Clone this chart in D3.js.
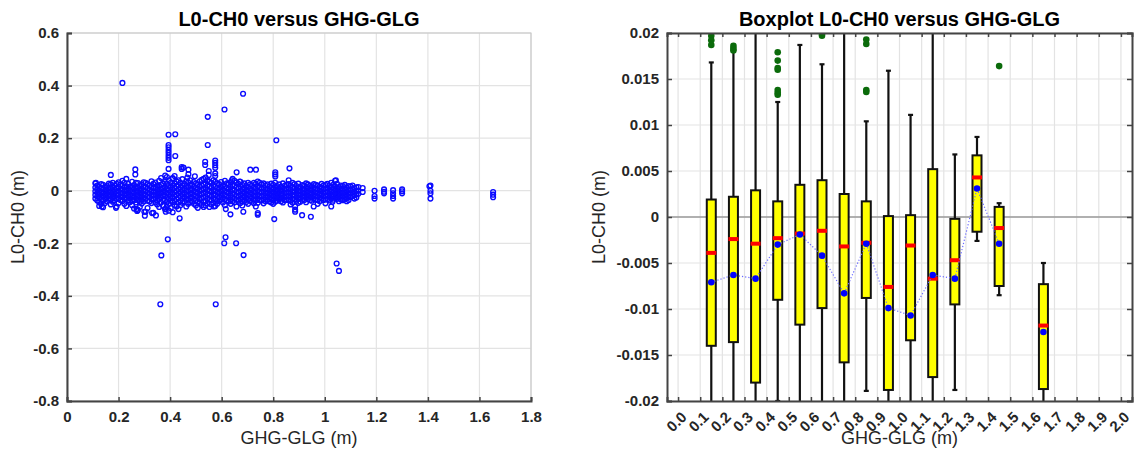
<!DOCTYPE html>
<html><head><meta charset="utf-8">
<script src="https://cdn.jsdelivr.net/npm/d3@7"></script>
<style>body{margin:0;background:#fff}svg{display:block}text{font-family:"Liberation Sans",Arial,sans-serif}</style>
</head><body>
<script>
// ---------- Left scatter data ----------
const bandX = [0.11,0.125,0.14,0.155,0.17,0.185,0.2,0.215,0.23,0.245,0.26,0.275,0.29,0.305,0.32,0.335,0.35,0.365,0.38,0.395,0.41,0.425,0.44,0.455,0.47,0.485,0.5,0.515,0.53,0.545,0.56,0.575,0.59,0.605,0.62,0.635,0.65,0.665,0.68,0.695,0.71,0.725,0.74,0.755,0.77,0.785,0.8,0.815,0.83,0.845,0.86,0.875,0.89,0.905,0.92,0.935,0.95,0.965,0.98,0.995,1.01,1.025,1.04,1.055,1.07,1.085,1.1,1.115,1.13];
const bandY = [
[0.028,0.012,-0.002,-0.016,-0.03],[0.015,0.0,-0.014,-0.027,-0.044,-0.058],[0.022,0.006,-0.008,-0.021,-0.038,-0.063],[0.018,0.003,-0.011,-0.025,-0.04],
[0.024,0.008,-0.006,-0.019,-0.033,-0.052],[0.02,0.005,-0.009,-0.023,-0.036],[0.032,0.014,0.0,-0.014,-0.028,-0.047],[0.038,0.019,0.004,-0.01,-0.024,-0.039],
[0.045,0.017,0.002,-0.012,-0.027,-0.058],[0.016,0.001,-0.015,-0.029,-0.043],[0.021,0.006,-0.008,-0.022,-0.036,-0.068],[0.029,0.011,-0.004,-0.019,-0.035,-0.073],
[0.024,0.008,-0.006,-0.02,-0.034,-0.049],[0.03,0.013,-0.002,-0.016,-0.031,-0.08],[0.019,0.004,-0.01,-0.024,-0.041],[0.026,0.01,-0.004,-0.018,-0.032,-0.084],
[0.02,0.005,-0.009,-0.022,-0.038,-0.052],[0.048,0.022,0.006,-0.008,-0.024,-0.045],[0.033,0.012,-0.004,-0.02,-0.036,-0.07],[0.04,0.018,0.002,-0.014,-0.03,-0.05,-0.076],
[0.046,0.02,0.004,-0.012,-0.028,-0.044,-0.082],[0.035,0.016,0.0,-0.016,-0.032,-0.06],[0.03,0.012,-0.004,-0.02,-0.038,-0.055],[0.026,0.009,-0.007,-0.023,-0.04],
[0.032,0.014,-0.002,-0.018,-0.034,-0.05],[0.022,0.006,-0.01,-0.026,-0.042],[0.028,0.011,-0.005,-0.021,-0.037,-0.056],[0.036,0.016,0.0,-0.016,-0.032,-0.046],
[0.045,0.024,0.006,-0.01,-0.026,-0.042,-0.062],[0.04,0.02,0.003,-0.013,-0.03,-0.048],[0.03,0.012,-0.004,-0.02,-0.036,-0.052],[0.034,0.015,-0.001,-0.017,-0.033,-0.058],
[0.025,0.008,-0.008,-0.024,-0.04],[0.02,0.004,-0.012,-0.028,-0.045],[0.028,0.011,-0.005,-0.021,-0.036],[0.033,0.014,-0.002,-0.018,-0.034,-0.05],
[0.038,0.018,0.002,-0.014,-0.03,-0.044],[0.026,0.009,-0.007,-0.022,-0.038],[0.022,0.006,-0.01,-0.025,-0.041,-0.056],[0.018,0.003,-0.012,-0.027,-0.043],
[0.024,0.008,-0.007,-0.022,-0.038],[0.03,0.012,-0.004,-0.019,-0.034,-0.048],[0.035,0.016,0.0,-0.016,-0.031,-0.046],[0.024,0.008,-0.007,-0.022,-0.037],
[0.02,0.005,-0.01,-0.025,-0.04],[0.016,0.002,-0.012,-0.026,-0.041],[0.022,0.006,-0.008,-0.022,-0.036,-0.05],[0.018,0.004,-0.01,-0.024,-0.038],
[0.015,0.001,-0.013,-0.027,-0.04],[0.02,0.005,-0.009,-0.023,-0.036],[0.025,0.009,-0.006,-0.02,-0.034],[0.03,0.012,-0.003,-0.017,-0.031,-0.045],
[0.018,0.003,-0.011,-0.025,-0.038],[0.014,0.0,-0.014,-0.028,-0.042],[0.02,0.005,-0.009,-0.022,-0.035],[0.024,0.009,-0.005,-0.019,-0.032],
[0.017,0.003,-0.011,-0.024,-0.038],[0.022,0.007,-0.007,-0.02,-0.034],[0.015,0.001,-0.012,-0.026,-0.04],[0.02,0.006,-0.008,-0.021,-0.035],
[0.026,0.01,-0.004,-0.018,-0.032],[0.03,0.013,-0.002,-0.016,-0.03],[0.038,0.016,0.001,-0.013,-0.027],[0.014,0.0,-0.013,-0.026,-0.04],
[0.018,0.004,-0.009,-0.022,-0.036],[0.012,-0.002,-0.015,-0.028],[0.016,0.002,-0.011,-0.024],[0.01,-0.004,-0.017,-0.03],[0.014,0.0,-0.012]
];
const bandX2 = [0.1175,0.1325,0.1475,0.1625,0.1775,0.1925,0.2075,0.2225,0.2375,0.2525,0.2675,0.2825,0.2975,0.3125,0.3275,0.3425,0.3575,0.3725,0.3875,0.4025,0.4175,0.4325,0.4475,0.4625,0.4775,0.4925,0.5075,0.5225,0.5375,0.5525,0.5675,0.5825,0.5975,0.6125,0.6275,0.6425,0.6575,0.6725,0.6875,0.7025,0.7175,0.7325,0.7475,0.7625,0.7775,0.7925,0.8075,0.8225,0.8375,0.8525,0.8675,0.8825,0.8975,0.9125,0.9275,0.9425,0.9575,0.9725,0.9875,1.0025,1.0175,1.0325,1.0475,1.0625,1.0775,1.0925,1.1075,1.1225];
const bandY2 = [
[0.02,0.006,-0.008,-0.022,-0.037],[0.025,0.009,-0.005,-0.019,-0.034,-0.05],[0.014,-0.001,-0.016,-0.03,-0.047],[0.027,0.011,-0.003,-0.017,-0.03],
[0.03,0.013,-0.001,-0.014,-0.027,-0.042],[0.026,0.01,-0.003,-0.017,-0.031,-0.06],[0.024,0.007,-0.007,-0.021,-0.035],[0.03,0.012,-0.003,-0.017,-0.031,-0.05],
[0.026,0.009,-0.006,-0.02,-0.036],[0.034,0.012,-0.004,-0.02,-0.037,-0.055],[0.03,0.013,-0.001,-0.015,-0.029,-0.045],[0.018,0.003,-0.011,-0.026,-0.042,-0.062],
[0.032,0.016,0.001,-0.013,-0.027,-0.041],[0.025,0.009,-0.007,-0.022,-0.038,-0.066],[0.036,0.014,-0.002,-0.017,-0.032,-0.047],[0.031,0.013,-0.003,-0.016,-0.029,-0.045],
[0.038,0.016,0.0,-0.015,-0.031,-0.062],[0.027,0.01,-0.005,-0.02,-0.036,-0.057],[0.052,0.026,0.008,-0.008,-0.025,-0.042,-0.06],[0.03,0.012,-0.006,-0.022,-0.038,-0.066],
[0.056,0.028,0.01,-0.006,-0.022,-0.038,-0.054],[0.04,0.022,0.005,-0.01,-0.026,-0.045,-0.07],[0.044,0.02,0.003,-0.013,-0.029,-0.046],[0.036,0.017,0.001,-0.015,-0.031,-0.06],
[0.04,0.02,0.004,-0.012,-0.028,-0.044],[0.033,0.015,-0.001,-0.017,-0.033,-0.05],[0.024,0.008,-0.008,-0.024,-0.041,-0.065],[0.041,0.02,0.004,-0.012,-0.028,-0.054],
[0.05,0.028,0.01,-0.006,-0.022,-0.038,-0.056],[0.034,0.016,-0.001,-0.017,-0.034,-0.062],[0.04,0.02,0.002,-0.014,-0.03,-0.046],[0.028,0.01,-0.006,-0.022,-0.038,-0.05],
[0.033,0.014,-0.002,-0.018,-0.034],[0.038,0.016,0.0,-0.016,-0.032,-0.055],[0.024,0.007,-0.009,-0.025,-0.041],[0.045,0.022,0.005,-0.01,-0.026,-0.04],
[0.031,0.012,-0.004,-0.019,-0.034,-0.06],[0.034,0.015,-0.001,-0.016,-0.032,-0.047],[0.028,0.011,-0.005,-0.02,-0.035],[0.03,0.013,-0.003,-0.018,-0.033,-0.05],
[0.02,0.004,-0.011,-0.026,-0.042],[0.026,0.009,-0.006,-0.021,-0.036,-0.06],[0.03,0.012,-0.004,-0.02,-0.035],[0.028,0.011,-0.004,-0.018,-0.033,-0.048],
[0.024,0.008,-0.006,-0.02,-0.034],[0.027,0.011,-0.004,-0.018,-0.032,-0.045],[0.03,0.013,-0.002,-0.016,-0.03,-0.042],[0.024,0.009,-0.005,-0.019,-0.032],
[0.028,0.012,-0.002,-0.016,-0.03,-0.045],[0.022,0.007,-0.007,-0.021,-0.035],[0.02,0.005,-0.009,-0.023,-0.038,-0.052],[0.025,0.01,-0.004,-0.018,-0.032],
[0.027,0.011,-0.003,-0.017,-0.031,-0.046],[0.021,0.007,-0.007,-0.02,-0.034],[0.028,0.012,-0.002,-0.015,-0.029,-0.044],[0.019,0.005,-0.008,-0.022,-0.036],
[0.025,0.01,-0.004,-0.017,-0.031],[0.02,0.006,-0.008,-0.021,-0.035,-0.05],[0.026,0.011,-0.003,-0.016,-0.029],[0.022,0.008,-0.005,-0.019,-0.033,-0.048],
[0.018,0.004,-0.01,-0.023,-0.037],[0.022,0.008,-0.006,-0.02,-0.034],[0.026,0.01,-0.004,-0.018,-0.031],[0.02,0.006,-0.007,-0.02,-0.033],
[0.022,0.007,-0.006,-0.019,-0.032],[0.018,0.004,-0.009,-0.022,-0.035],[0.02,0.006,-0.007,-0.02],[0.013,0.0,-0.013,-0.026]
];
const extraPoints = [
[0.215,0.41],[0.683,0.369],[0.611,0.309],[0.546,0.281],[0.546,0.174],[0.812,0.192],
[0.394,0.213],[0.42,0.215],[0.394,0.174],[0.394,0.165],[0.394,0.155],[0.394,0.145],[0.394,0.135],[0.394,0.125],[0.394,0.116],[0.394,0.083],
[0.42,0.132],[0.41,0.048],[0.445,0.09],[0.445,0.083],[0.452,0.088],[0.471,0.08],[0.471,0.063],[0.536,0.11],[0.536,0.098],[0.55,0.075],[0.55,0.06],
[0.575,0.115],[0.575,0.106],[0.575,0.097],[0.575,0.087],[0.575,0.066],[0.575,0.056],[0.658,0.07],[0.711,0.08],[0.733,0.08],[0.67,0.035],
[0.808,0.07],[0.808,0.062],[0.808,0.054],[0.863,0.085],[0.86,0.04],[0.265,0.081],[0.265,0.062],[0.17,0.06],[0.112,0.03],[0.381,0.058],[0.496,0.055],
[0.467,0.05],[0.64,0.04],[1.043,0.04],[1.406,0.017],
[0.437,-0.105],[0.804,-0.108],[0.946,-0.099],[0.912,-0.093],[0.74,-0.085],[0.74,-0.091],[0.684,-0.08],[0.634,-0.09],[0.616,-0.07],[0.345,-0.094],
[0.3,-0.08],[0.302,-0.095],[0.27,-0.07],[0.272,-0.077],[0.33,-0.085],[0.383,-0.08],[0.383,-0.07],[0.885,-0.06],[0.885,-0.072],[0.885,-0.08],
[0.957,-0.06],[1.025,-0.06],[0.19,-0.065],[0.135,-0.06],[0.57,-0.06],[1.03,-0.042],[1.085,-0.04],
[0.391,-0.185],[0.366,-0.246],[0.362,-0.432],[0.577,-0.432],[0.61,-0.2],[0.615,-0.177],[0.656,-0.2],[0.685,-0.245],[1.046,-0.277],[1.055,-0.305],
[1.147,0.01],[1.147,-0.005],[1.193,0.0],[1.193,-0.02],[1.193,-0.03],[1.23,0.005],[1.23,-0.004],[1.23,-0.01],[1.265,0.002],[1.265,-0.01],[1.265,-0.02],
[1.265,-0.03],[1.3,0.005],[1.3,-0.002],[1.3,-0.01],[1.41,0.02],[1.41,0.0],[1.41,-0.01],[1.41,-0.03],[1.653,-0.005],[1.653,-0.015],[1.653,-0.025]
];
const leftXTicks = [0,0.2,0.4,0.6,0.8,1,1.2,1.4,1.6,1.8];
const leftXLabels = ["0","0.2","0.4","0.6","0.8","1","1.2","1.4","1.6","1.8"];
const leftYTicks = [0.6,0.4,0.2,0,-0.2,-0.4,-0.6,-0.8];
const leftYLabels = ["0.6","0.4","0.2","0","-0.2","-0.4","-0.6","-0.8"];

// ---------- Right boxplot data ----------
const binCenters = [0.15,0.25,0.35,0.45,0.55,0.65,0.75,0.85,0.95,1.05,1.15,1.25,1.35,1.45,1.65];
const q3      = [0.0019,0.0022,0.0029,0.0017,0.0035,0.0040,0.0025,0.0017,0.0001,0.0002,0.0052,-0.0002,0.0067,0.0011,-0.0073];
const medians = [-0.0039,-0.0024,-0.0029,-0.0023,-0.0018,-0.0015,-0.0032,-0.0028,-0.0076,-0.0031,-0.0067,-0.0047,0.0043,-0.0012,-0.0118];
const q1      = [-0.0140,-0.0136,-0.0180,-0.0090,-0.0117,-0.0099,-0.0158,-0.0088,-0.0188,-0.0134,-0.0174,-0.0095,-0.0016,-0.0075,-0.0187];
const whiskLo = [-0.03,-0.03,-0.03,-0.0200,-0.03,-0.03,-0.03,-0.0189,-0.03,-0.03,-0.03,-0.0188,-0.0026,-0.0085,-0.03];
const whiskHi = [0.0168,0.0180,0.03,0.0125,0.0187,0.0166,0.03,0.0104,0.0159,0.0111,0.03,0.0068,0.0087,0.0015,-0.0050];
const meanX   = [0.15,0.25,0.35,0.45,0.55,0.65,0.75,0.85,0.95,1.05,1.15,1.25,1.35,1.45,1.55,1.65];
const means   = [-0.0071,-0.0063,-0.0067,-0.0030,-0.0019,-0.0042,-0.0083,-0.0029,-0.0099,-0.0107,-0.0063,-0.0067,0.0031,-0.0029,null,-0.0125];
const outlierX = [0.15,0.15,0.15,0.25,0.25,0.25,0.45,0.45,0.45,0.45,0.45,0.45,0.45,0.65,0.65,0.85,0.85,0.85,0.85,1.45];
const outlierY = [0.0197,0.0192,0.0187,0.0186,0.0183,0.0181,0.0179,0.0170,0.0162,0.0160,0.0138,0.0135,0.0133,0.0199,0.0197,0.0193,0.0188,0.0138,0.0136,0.0164];
const rightXTicks = [0,0.1,0.2,0.3,0.4,0.5,0.6,0.7,0.8,0.9,1.0,1.1,1.2,1.3,1.4,1.5,1.6,1.7,1.8,1.9,2.0];
const rightXLabels = ["0.0","0.1","0.2","0.3","0.4","0.5","0.6","0.7","0.8","0.9","1.0","1.1","1.2","1.3","1.4","1.5","1.6","1.7","1.8","1.9","2.0"];
const rightYTicks = [0.02,0.015,0.01,0.005,0,-0.005,-0.01,-0.015,-0.02];
const rightYLabels = ["0.02","0.015","0.01","0.005","0","-0.005","-0.01","-0.015","-0.02"];

const W = 1134, H = 452;
const svg = d3.select("body").append("svg").attr("width", W).attr("height", H);
const TXT = "#262626", GRID = "#e3e3e3";

// ================= LEFT =================
const L = {x0:67, x1:531, y0:33, y1:401};
const lx = d3.scaleLinear().domain([0,1.8]).range([L.x0,L.x1]);
const ly = d3.scaleLinear().domain([-0.8,0.6]).range([L.y1,L.y0]);
const gl = svg.append("g");
gl.selectAll(".vg").data(leftXTicks).join("line").attr("x1",d=>lx(d)).attr("x2",d=>lx(d)).attr("y1",L.y0).attr("y2",L.y1).attr("stroke",GRID).attr("stroke-width",1.2);
gl.selectAll(".hg").data(leftYTicks).join("line").attr("y1",d=>ly(d)).attr("y2",d=>ly(d)).attr("x1",L.x0).attr("x2",L.x1).attr("stroke",GRID).attr("stroke-width",1.2);
gl.append("rect").attr("x",L.x0).attr("y",L.y0).attr("width",L.x1-L.x0).attr("height",L.y1-L.y0).attr("fill","none").attr("stroke","#c4c4c4").attr("stroke-width",1);
gl.append("defs").append("clipPath").attr("id","clipL").append("rect").attr("x",L.x0).attr("y",L.y0).attr("width",L.x1-L.x0).attr("height",L.y1-L.y0);
const pts = [];
bandX.forEach((x,i)=>bandY[i].forEach(y=>pts.push([x,y])));
bandX2.forEach((x,i)=>bandY2[i].forEach(y=>pts.push([x,y])));
extraPoints.forEach(p=>pts.push(p));
gl.append("g").attr("clip-path","url(#clipL)").selectAll("circle").data(pts).join("circle")
  .attr("cx",d=>lx(d[0])).attr("cy",d=>ly(d[1])).attr("r",2.4).attr("fill","none").attr("stroke","#0a0aff").attr("stroke-width",1.35);

const lxa = gl.append("g").attr("transform",`translate(0,${L.y1})`)
  .call(d3.axisBottom(lx).tickValues(leftXTicks).tickFormat((d,i)=>leftXLabels[i]).tickSize(-4).tickPadding(10));
const lya = gl.append("g").attr("transform",`translate(${L.x0},0)`)
  .call(d3.axisLeft(ly).tickValues(leftYTicks).tickFormat((d,i)=>leftYLabels[i]).tickSize(-5).tickPadding(8));
[lxa,lya].forEach(a=>{
  a.select(".domain").attr("stroke","#444").attr("stroke-width",2);
  a.selectAll(".tick line").attr("stroke","#444").attr("stroke-width",1.5);
  a.selectAll(".tick text").attr("fill",TXT).style("font-size","15px").style("font-weight","bold").style("font-family",'"Liberation Sans",Arial,sans-serif');
});
gl.append("text").attr("x",(L.x0+L.x1)/2).attr("y",26).attr("text-anchor","middle").style("font-size","20px").style("font-weight","bold").attr("fill","#000").text("L0-CH0 versus GHG-GLG");
gl.append("text").attr("x",(L.x0+L.x1)/2).attr("y",444).attr("text-anchor","middle").style("font-size","18px").attr("fill",TXT).text("GHG-GLG (m)");
gl.append("text").attr("transform",`translate(24,${(L.y0+L.y1)/2}) rotate(-90)`).attr("text-anchor","middle").style("font-size","18px").attr("fill",TXT).text("L0-CH0 (m)");

// ================= RIGHT =================
const R = {x0:667, x1:1132, y0:33, y1:401};
const rx = d3.scaleLinear().domain([-0.05,2.05]).range([R.x0,R.x1]);
const ry = d3.scaleLinear().domain([-0.02,0.02]).range([R.y1,R.y0]);
const gr = svg.append("g");
gr.append("defs").append("clipPath").attr("id","clipR").append("rect").attr("x",R.x0).attr("y",R.y0).attr("width",R.x1-R.x0).attr("height",R.y1-R.y0);
gr.selectAll(".vg").data(rightXTicks).join("line").attr("x1",d=>rx(d)).attr("x2",d=>rx(d)).attr("y1",R.y0).attr("y2",R.y1).attr("stroke",GRID).attr("stroke-width",1.2);
gr.selectAll(".hg").data(rightYTicks).join("line").attr("y1",d=>ry(d)).attr("y2",d=>ry(d)).attr("x1",R.x0).attr("x2",R.x1).attr("stroke",GRID).attr("stroke-width",1.2);
gr.append("line").attr("x1",R.x0).attr("x2",R.x1).attr("y1",ry(0)).attr("y2",ry(0)).attr("stroke","#9a9a9a").attr("stroke-width",1.5);

const pc = gr.append("g").attr("clip-path","url(#clipR)");
const bw = 9, cw = 5;
const idx = d3.range(binCenters.length);
pc.selectAll(".wl").data(idx).join("line").attr("x1",i=>rx(binCenters[i])).attr("x2",i=>rx(binCenters[i]))
  .attr("y1",i=>ry(whiskLo[i])).attr("y2",i=>ry(q1[i])).attr("stroke","#111").attr("stroke-width",2.2);
pc.selectAll(".wh").data(idx).join("line").attr("x1",i=>rx(binCenters[i])).attr("x2",i=>rx(binCenters[i]))
  .attr("y1",i=>ry(whiskHi[i])).attr("y2",i=>ry(q3[i])).attr("stroke","#111").attr("stroke-width",2.2);
pc.selectAll(".cl").data(idx).join("line").attr("x1",i=>rx(binCenters[i])-cw/2).attr("x2",i=>rx(binCenters[i])+cw/2)
  .attr("y1",i=>ry(whiskLo[i])).attr("y2",i=>ry(whiskLo[i])).attr("stroke","#111").attr("stroke-width",2.2);
pc.selectAll(".ch").data(idx).join("line").attr("x1",i=>rx(binCenters[i])-cw/2).attr("x2",i=>rx(binCenters[i])+cw/2)
  .attr("y1",i=>ry(whiskHi[i])).attr("y2",i=>ry(whiskHi[i])).attr("stroke","#111").attr("stroke-width",2.2);
pc.selectAll(".bx").data(idx).join("rect").attr("x",i=>rx(binCenters[i])-bw/2).attr("width",bw)
  .attr("y",i=>ry(q3[i])).attr("height",i=>ry(q1[i])-ry(q3[i])).attr("fill","#ffff00").attr("stroke","#111").attr("stroke-width",2);
pc.selectAll(".md").data(idx).join("rect").attr("x",i=>rx(binCenters[i])-bw/2-0.5).attr("width",bw+1)
  .attr("y",i=>ry(medians[i])-2).attr("height",4).attr("fill","#ff0000");
const ml = d3.line().defined((d,i)=>means[i]!==null).x((d,i)=>rx(meanX[i])).y((d,i)=>ry(means[i]));
pc.append("path").datum(meanX).attr("d",ml).attr("fill","none").attr("stroke","#6a6aff").attr("stroke-width",1.2).attr("stroke-dasharray","1.2,2");
pc.selectAll(".mn").data(meanX.map((x,i)=>i).filter(i=>means[i]!==null)).join("circle")
  .attr("cx",i=>rx(meanX[i])).attr("cy",i=>ry(means[i])).attr("r",3.3).attr("fill","#0000ff");
pc.selectAll(".ou").data(outlierX.map((x,i)=>i)).join("circle")
  .attr("cx",i=>rx(outlierX[i])).attr("cy",i=>ry(outlierY[i])).attr("r",3.3).attr("fill","#0b6b0b");

const rxa = gr.append("g").attr("transform",`translate(0,${R.y1})`)
  .call(d3.axisBottom(rx).tickValues(rightXTicks).tickFormat((d,i)=>rightXLabels[i]).tickSize(-4).tickPadding(0));
rxa.selectAll(".tick text").attr("text-anchor","end").attr("dy",null).attr("y",null)
  .attr("transform","translate(9,17) rotate(-45)");
const rya = gr.append("g").attr("transform",`translate(${R.x0},0)`)
  .call(d3.axisLeft(ry).tickValues(rightYTicks).tickFormat((d,i)=>rightYLabels[i]).tickSize(-5).tickPadding(8));
const rxt = gr.append("g").attr("transform",`translate(0,${R.y0})`)
  .call(d3.axisTop(rx).tickValues(rightXTicks).tickFormat("").tickSize(-4));
const ryr = gr.append("g").attr("transform",`translate(${R.x1},0)`)
  .call(d3.axisRight(ry).tickValues(rightYTicks).tickFormat("").tickSize(-5));
[rxa,rya,rxt,ryr].forEach(a=>{
  a.select(".domain").attr("stroke","#444").attr("stroke-width",2);
  a.selectAll(".tick line").attr("stroke","#444").attr("stroke-width",1.5);
  a.selectAll(".tick text").attr("fill",TXT).style("font-size","15px").style("font-weight","bold").style("font-family",'"Liberation Sans",Arial,sans-serif');
});
gr.append("text").attr("x",(R.x0+R.x1)/2).attr("y",26).attr("text-anchor","middle").style("font-size","20px").style("font-weight","bold").attr("fill","#000").text("Boxplot L0-CH0 versus GHG-GLG");
gr.append("text").attr("x",(R.x0+R.x1)/2).attr("y",444).attr("text-anchor","middle").style("font-size","18px").attr("fill",TXT).text("GHG-GLG (m)");
gr.append("text").attr("transform",`translate(605,${(R.y0+R.y1)/2}) rotate(-90)`).attr("text-anchor","middle").style("font-size","18px").attr("fill",TXT).text("L0-CH0 (m)");
</script>
</body></html>
